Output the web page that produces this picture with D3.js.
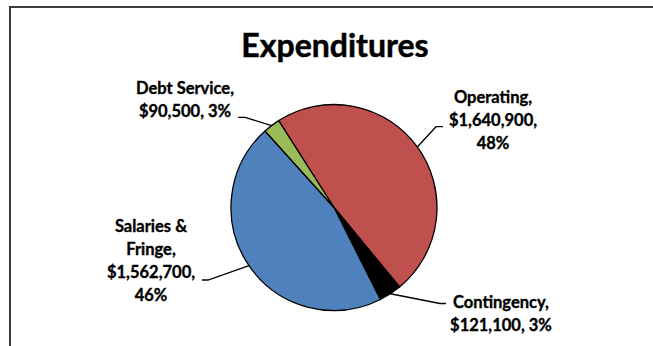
<!DOCTYPE html>
<html>
<head>
<meta charset="utf-8">
<script src="https://cdn.jsdelivr.net/npm/d3@7"></script>
<style>
  html, body { margin: 0; padding: 0; background: #fff; }
  svg { display: block; }
  text { font-family: Lato, "Open Sans", sans-serif; font-weight: 700; fill: #000; stroke: #000; stroke-width: 0.35px; }
</style>
</head>
<body>
<svg id="chart" width="653" height="346"></svg>
<script>
// Budget expenditures by category
const categories = ["Operating", "Contingency", "Salaries & Fringe", "Debt Service"];
const amounts = [1640900, 121100, 1562700, 90500];
const percentLabels = ["48%", "3%", "46%", "3%"];
const sliceColors = ["#C0504D", "#000000", "#4F81BD", "#9BBB59"];
const chartTitle = "Expenditures";

const cx = 334, cy = 207.5, R = 103;
const startDeg = -32.5;

// label placement: centre x, first baseline, leader start and elbow
const labelLayout = [
  { x: 493, y: 103, lead: [443, 126.7], elbow: [436, 126.7] },
  { x: 501, y: 308, lead: [446, 303.5], elbow: [440, 303.5] },
  { x: 151, y: 232, lead: [202, 280], elbow: [208, 280] },
  { x: 185, y: 94,  lead: [238, 117.3], elbow: [245, 117.3] }
];
const lineHeight = 23;
const wrapWidth = 114;

const svg = d3.select("#chart");

// outer chart frame (runs off the right and bottom edges)
svg.append("rect")
  .attr("x", 10).attr("y", 7)
  .attr("width", 700).attr("height", 400)
  .attr("fill", "none")
  .attr("stroke", "#3b3b3b")
  .attr("stroke-width", 2);

svg.append("text")
  .attr("x", 335).attr("y", 57)
  .attr("text-anchor", "middle")
  .style("font-size", "32px")
  .style("stroke-width", "0.5px")
  .text(chartTitle);

const data = categories.map((c, i) => ({ name: c, value: amounts[i], pct: percentLabels[i], color: sliceColors[i] }));

const pie = d3.pie()
  .sort(null)
  .value(d => d.value)
  .startAngle(startDeg * Math.PI / 180)
  .endAngle((startDeg + 360) * Math.PI / 180);

const arc = d3.arc().innerRadius(0).outerRadius(R);
const arcs = pie(data);

const g = svg.append("g").attr("transform", `translate(${cx},${cy})`);
g.selectAll("path")
  .data(arcs)
  .join("path")
  .attr("d", arc)
  .attr("fill", d => d.data.color)
  .attr("stroke", "#000")
  .attr("stroke-width", 1.3)
  .attr("stroke-linejoin", "round");

const money = d3.format("$,");

// leader lines from label to the slice edge
arcs.forEach((a, i) => {
  const L = labelLayout[i];
  const mid = (a.startAngle + a.endAngle) / 2;
  const px = cx + R * Math.sin(mid);
  const py = cy - R * Math.cos(mid);
  svg.append("polyline")
    .attr("points", [L.lead, L.elbow, [px, py]].map(p => p.join(",")).join(" "))
    .attr("fill", "none")
    .attr("stroke", "#000")
    .attr("stroke-width", 1.3);
});

// data labels, wrapped word by word
arcs.forEach((a, i) => {
  const L = labelLayout[i];
  const full = `${a.data.name}, ${money(a.data.value)}, ${a.data.pct}`;
  const words = full.split(" ");
  const t = svg.append("text")
    .attr("text-anchor", "middle")
    .style("font-size", "16.5px");
  const lines = [];
  let cur = "";
  const probe = t.append("tspan");
  words.forEach(w => {
    const test = cur ? cur + " " + w : w;
    probe.text(test);
    if (cur && probe.node().getComputedTextLength() > wrapWidth) {
      lines.push(cur);
      cur = w;
    } else {
      cur = test;
    }
  });
  lines.push(cur);
  probe.remove();
  lines.forEach((ln, k) => {
    t.append("tspan")
      .attr("x", L.x)
      .attr("y", L.y + k * lineHeight)
      .text(ln);
  });
});
</script>
</body>
</html>
